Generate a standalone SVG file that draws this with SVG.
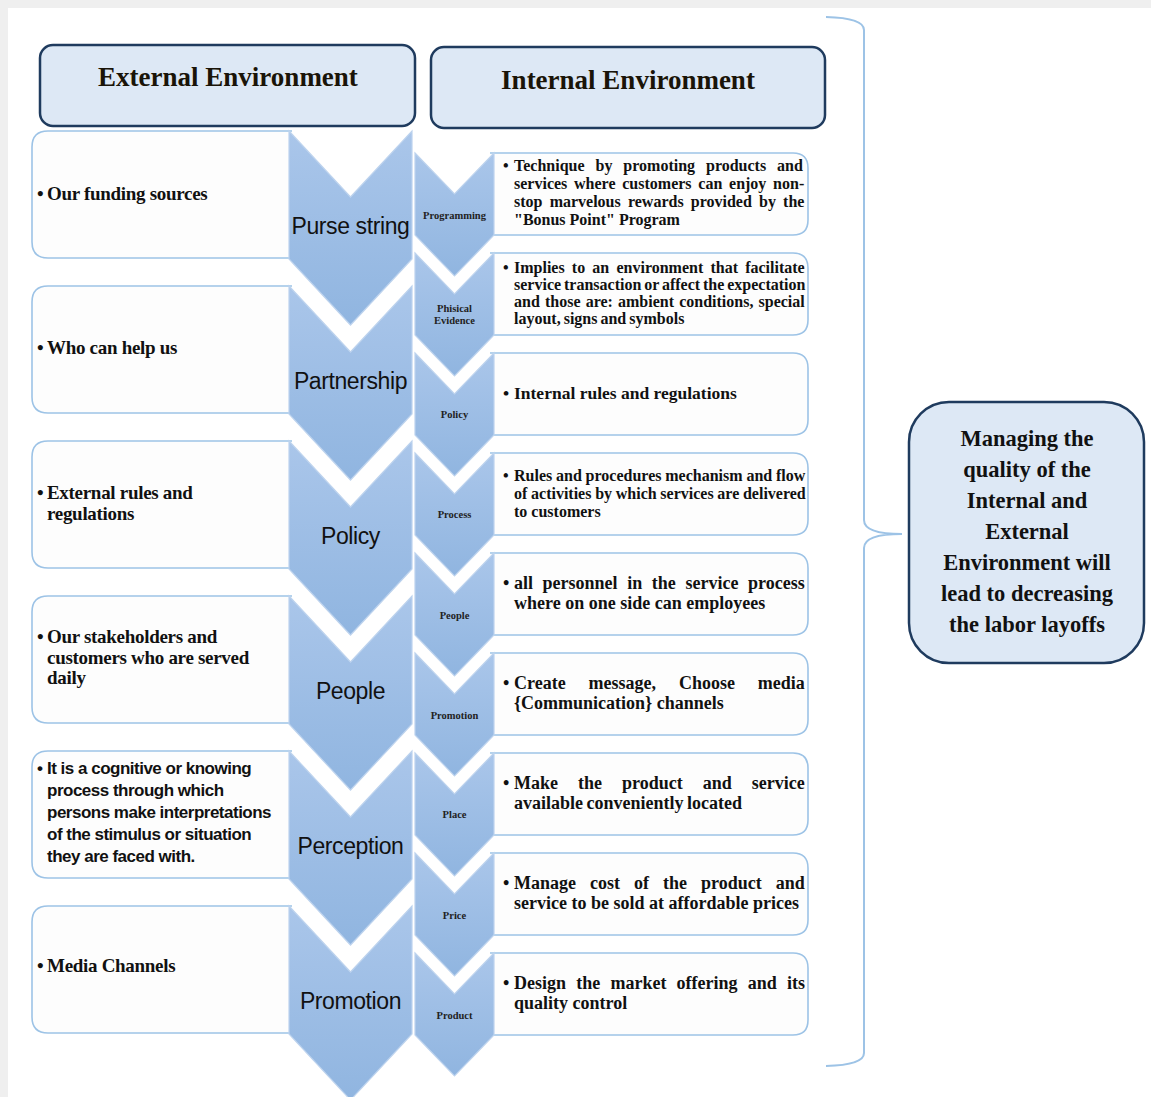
<svg xmlns="http://www.w3.org/2000/svg" width="1151" height="1097" viewBox="0 0 1151 1097">
<style>
.hdr{font-family:"Liberation Serif",serif;font-weight:bold;font-size:27px;fill:#1a1408;text-anchor:middle}
.lt{font-family:"Liberation Serif",serif;font-weight:bold;font-size:19px;letter-spacing:-0.3px;fill:#111}
.cl{font-family:"Liberation Sans",sans-serif;font-size:23px;letter-spacing:-0.4px;fill:#111;text-anchor:middle}
.sl{font-family:"Liberation Serif",serif;font-weight:bold;font-size:10.5px;fill:#222;text-anchor:middle}
.rt{font-family:"Liberation Serif",serif;font-weight:bold;font-size:16px;fill:#111}
.rt2{font-family:"Liberation Serif",serif;font-weight:bold;font-size:18px;fill:#111}
.pc{font-family:"Liberation Sans",sans-serif;font-weight:bold;font-size:17px;letter-spacing:-0.5px;fill:#111}
.mg{font-family:"Liberation Serif",serif;font-weight:bold;font-size:22.5px;fill:#111;text-anchor:middle}
.hbox{fill:#dde8f5;stroke:#1f3b5e;stroke-width:2.5}
.box{fill:#fdfdfd;stroke:#9dc3e6;stroke-width:1.6}
.chev{fill:url(#cg);stroke:#bdd3ee;stroke-width:1.2}
.brace{fill:none;stroke:#9dc3e6;stroke-width:2}
</style>
<defs>
<linearGradient id="cg" x1="0" y1="0" x2="0" y2="1">
<stop offset="0" stop-color="#aac6ea"/>
<stop offset="1" stop-color="#90b5e0"/>
</linearGradient>
</defs>
<rect x="0" y="0" width="1151" height="1097" fill="#efefef"/>
<rect x="8" y="8" width="1143" height="1089" fill="#ffffff"/>

<g id="header-external">
<rect class="hbox" x="40" y="45" width="375" height="81" rx="13"/>
<text class="hdr" x="228" y="86">External Environment</text>
</g>
<g id="header-internal">
<rect class="hbox" x="431" y="47" width="394" height="81" rx="13"/>
<text class="hdr" x="628" y="89">Internal Environment</text>
</g>

<g id="ext-purse-string">
<path class="box" d="M292 131H48Q32 131 32 147V242Q32 258 48 258H292"/>
<text class="lt" x="37" y="200">•</text><text class="lt" x="47" y="200">Our funding sources</text>
<path class="chev" d="M289 131L350.5 197L412 131L412 259L350.5 325L289 259Z"/>
<text class="cl" x="350.5" y="234">Purse string</text>
</g>
<g id="ext-partnership">
<path class="box" d="M292 286H48Q32 286 32 302V397Q32 413 48 413H292"/>
<text class="lt" x="37" y="354">•</text><text class="lt" x="47" y="354">Who can help us</text>
<path class="chev" d="M289 286L350.5 352L412 286L412 414L350.5 480L289 414Z"/>
<text class="cl" x="350.5" y="389">Partnership</text>
</g>
<g id="ext-policy">
<path class="box" d="M292 441H48Q32 441 32 457V552Q32 568 48 568H292"/>
<text class="lt" x="37" y="499">•</text><text class="lt" x="47" y="499">External rules and</text>
<text class="lt" x="47" y="520">regulations</text>
<path class="chev" d="M289 441L350.5 507L412 441L412 569L350.5 635L289 569Z"/>
<text class="cl" x="350.5" y="544">Policy</text>
</g>
<g id="ext-people">
<path class="box" d="M292 596H48Q32 596 32 612V707Q32 723 48 723H292"/>
<text class="lt" x="37" y="643">•</text><text class="lt" x="47" y="643">Our stakeholders and</text>
<text class="lt" x="47" y="663.5">customers who are served</text>
<text class="lt" x="47" y="684">daily</text>
<path class="chev" d="M289 596L350.5 662L412 596L412 724L350.5 790L289 724Z"/>
<text class="cl" x="350.5" y="699">People</text>
</g>
<g id="ext-perception">
<path class="box" d="M292 751H48Q32 751 32 767V862Q32 878 48 878H292"/>
<text class="pc" x="37" y="774">•</text>
<text class="pc" x="47" y="774">It is a cognitive or knowing</text>
<text class="pc" x="47" y="796">process through which</text>
<text class="pc" x="47" y="818">persons make interpretations</text>
<text class="pc" x="47" y="840">of the stimulus or situation</text>
<text class="pc" x="47" y="862">they are faced with.</text>
<path class="chev" d="M289 751L350.5 817L412 751L412 879L350.5 945L289 879Z"/>
<text class="cl" x="350.5" y="854">Perception</text>
</g>
<g id="ext-promotion">
<path class="box" d="M292 906H48Q32 906 32 922V1017Q32 1033 48 1033H292"/>
<text class="lt" x="37" y="972">•</text><text class="lt" x="47" y="972">Media Channels</text>
<path class="chev" d="M289 906L350.5 972L412 906L412 1034L350.5 1100L289 1034Z"/>
<text class="cl" x="350.5" y="1009">Promotion</text>
</g>

<g id="int-programming">
<path class="box" d="M490 153H793Q808 153 808 168V220Q808 235 793 235H490"/>
<path class="chev" d="M415 153L454.5 194L494 153L494 235L454.5 276L415 235Z"/>
<text class="sl" x="454.5" y="219">Programming</text>
<text class="rt" x="503" y="171">•</text>
<text class="rt" x="514" y="171" word-spacing="6.95">Technique by promoting products and</text>
<text class="rt" x="514" y="189" word-spacing="2.74">services where customers can enjoy non-</text>
<text class="rt" x="514" y="207" word-spacing="3.18">stop marvelous rewards provided by the</text>
<text class="rt" x="514" y="225">"Bonus Point" Program</text>
</g>
<g id="int-phisical-evidence">
<path class="box" d="M490 253H793Q808 253 808 268V320Q808 335 793 335H490"/>
<path class="chev" d="M415 253L454.5 294L494 253L494 335L454.5 376L415 335Z"/>
<text class="sl" x="454.5" y="312">Phisical</text>
<text class="sl" x="454.5" y="324">Evidence</text>
<text class="rt" x="503" y="273">•</text>
<text class="rt" x="514" y="273" word-spacing="3.18">Implies to an environment that facilitate</text>
<text class="rt" x="514" y="290" word-spacing="-1.1">service transaction or affect the expectation</text>
<text class="rt" x="514" y="307" word-spacing="1.14">and those are: ambient conditions, special</text>
<text class="rt" x="514" y="324" word-spacing="-1">layout, signs and symbols</text>
</g>
<g id="int-policy">
<path class="box" d="M490 353H793Q808 353 808 368V420Q808 435 793 435H490"/>
<path class="chev" d="M415 353L454.5 394L494 353L494 435L454.5 476L415 435Z"/>
<text class="sl" x="454.5" y="418">Policy</text>
<text class="rt" x="503" y="399" style="font-size:17.5px">•</text>
<text class="rt" x="514" y="399" style="font-size:17.5px">Internal rules and regulations</text>
</g>
<g id="int-process">
<path class="box" d="M490 453H793Q808 453 808 468V520Q808 535 793 535H490"/>
<path class="chev" d="M415 453L454.5 494L494 453L494 535L454.5 576L415 535Z"/>
<text class="sl" x="454.5" y="518">Process</text>
<text class="rt" x="503" y="481">•</text>
<text class="rt" x="514" y="481" word-spacing="-0.2">Rules and procedures mechanism and flow</text>
<text class="rt" x="514" y="499" word-spacing="-0.3">of activities by which services are delivered</text>
<text class="rt" x="514" y="517">to customers</text>
</g>
<g id="int-people">
<path class="box" d="M490 553H793Q808 553 808 568V620Q808 635 793 635H490"/>
<path class="chev" d="M415 553L454.5 594L494 553L494 635L454.5 676L415 635Z"/>
<text class="sl" x="454.5" y="619">People</text>
<text class="rt2" x="503" y="589">•</text>
<text class="rt2" x="514" y="589" word-spacing="5.1">all personnel in the service process</text>
<text class="rt2" x="514" y="609">where on one side can employees</text>
</g>
<g id="int-promotion">
<path class="box" d="M490 653H793Q808 653 808 668V720Q808 735 793 735H490"/>
<path class="chev" d="M415 653L454.5 694L494 653L494 735L454.5 776L415 735Z"/>
<text class="sl" x="454.5" y="719">Promotion</text>
<text class="rt2" x="503" y="689">•</text>
<text class="rt2" x="514" y="689" word-spacing="18.4">Create message, Choose media</text>
<text class="rt2" x="514" y="709">{Communication} channels</text>
</g>
<g id="int-place">
<path class="box" d="M490 753H793Q808 753 808 768V820Q808 835 793 835H490"/>
<path class="chev" d="M415 753L454.5 794L494 753L494 835L454.5 876L415 835Z"/>
<text class="sl" x="454.5" y="818">Place</text>
<text class="rt2" x="503" y="789">•</text>
<text class="rt2" x="514" y="789" word-spacing="15.5">Make the product and service</text>
<text class="rt2" x="514" y="809" word-spacing="-1">available conveniently located</text>
</g>
<g id="int-price">
<path class="box" d="M490 853H793Q808 853 808 868V920Q808 935 793 935H490"/>
<path class="chev" d="M415 853L454.5 894L494 853L494 935L454.5 976L415 935Z"/>
<text class="sl" x="454.5" y="919">Price</text>
<text class="rt2" x="503" y="889">•</text>
<text class="rt2" x="514" y="889" word-spacing="9.5">Manage cost of the product and</text>
<text class="rt2" x="514" y="909">service to be sold at affordable prices</text>
</g>
<g id="int-product">
<path class="box" d="M490 953H793Q808 953 808 968V1020Q808 1035 793 1035H490"/>
<path class="chev" d="M415 953L454.5 994L494 953L494 1035L454.5 1076L415 1035Z"/>
<text class="sl" x="454.5" y="1019">Product</text>
<text class="rt2" x="503" y="989">•</text>
<text class="rt2" x="514" y="989" word-spacing="5.7">Design the market offering and its</text>
<text class="rt2" x="514" y="1009">quality control</text>
</g>

<g id="connectors">
<path class="brace" d="M826 17Q864 18 864 30V520Q864 534 902 534Q864 534 864 548V1053Q864 1065 826 1066"/>
</g>

<g id="outcome">
<rect class="hbox" x="909" y="402" width="235" height="261" rx="40"/>
<text class="mg" x="1027" y="446">Managing the</text>
<text class="mg" x="1027" y="477">quality of the</text>
<text class="mg" x="1027" y="508">Internal and</text>
<text class="mg" x="1027" y="539">External</text>
<text class="mg" x="1027" y="570">Environment will</text>
<text class="mg" x="1027" y="601">lead to decreasing</text>
<text class="mg" x="1027" y="632">the labor layoffs</text>
</g>
</svg>
